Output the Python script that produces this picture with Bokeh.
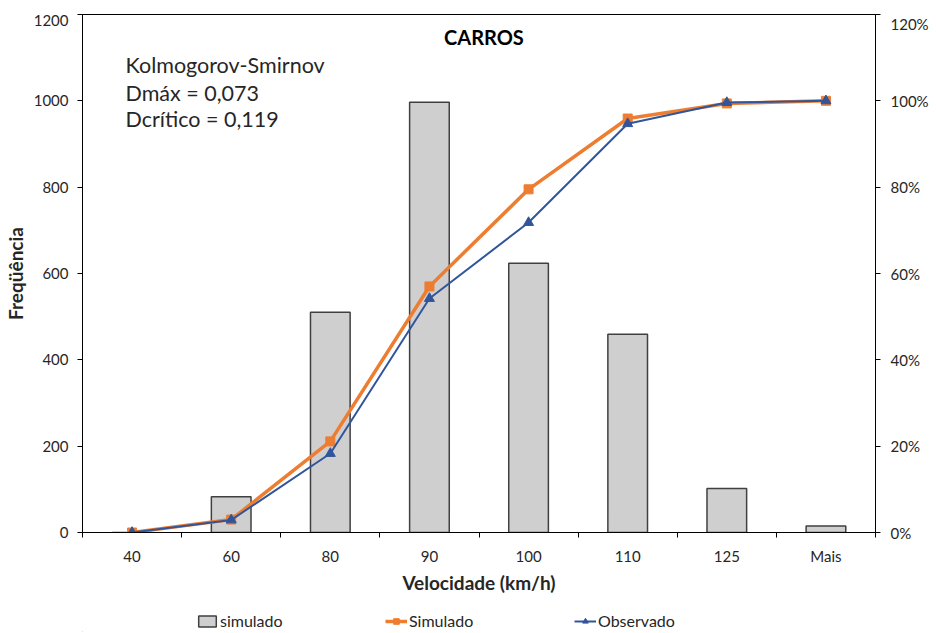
from bokeh.plotting import figure
from bokeh.layouts import column
from bokeh.models import (Range1d, LinearAxis, FixedTicker, NumeralTickFormatter,
                          Legend, LegendItem, Label, ColumnDataSource, Spacer)
from bokeh.embed import file_html
from bokeh.resources import INLINE

categories = ["40", "60", "80", "90", "100", "110", "125", "Mais"]
freq_simulado = [0, 83, 510, 997, 624, 459, 102, 15]
cum_simulado = [0.0, 0.030, 0.211, 0.570, 0.795, 0.959, 0.994, 1.0]
cum_observado = [0.0, 0.029, 0.183, 0.542, 0.718, 0.947, 0.996, 1.0]
freq_ticks = [0, 200, 400, 600, 800, 1000, 1200]
pct_ticks = [0.0, 0.2, 0.4, 0.6, 0.8, 1.0, 1.2]

FONT = "Lato"
TXT = "#262626"
GRAY, ORANGE, BLUE = "#d0cfd0", "#ed7d31", "#30559a"

xpos = [i + 0.5 for i in range(len(categories))]
src = ColumnDataSource(dict(x=xpos, freq=freq_simulado, sim=cum_simulado, obs=cum_observado))

p = figure(frame_width=793, frame_height=518, output_backend="svg", toolbar_location=None,
           x_range=Range1d(0, len(categories)), y_range=Range1d(0, 1200),
           min_border_left=0, min_border_right=0, min_border_top=0, min_border_bottom=0)
p.extra_y_ranges = {"pct": Range1d(0, 1.2)}
p.xgrid.visible = False
p.ygrid.visible = False
p.outline_line_color = "black"
p.outline_line_width = 1

p.vbar(x="x", top="freq", width=0.4, source=src, fill_color=GRAY, line_color="#404040", line_width=1.5)
p.line(x="x", y="sim", source=src, y_range_name="pct", line_color=ORANGE, line_width=3.5)
p.scatter(x="x", y="sim", source=src, y_range_name="pct", marker="square", size=9,
          fill_color=ORANGE, line_color=ORANGE)
p.line(x="x", y="obs", source=src, y_range_name="pct", line_color=BLUE, line_width=2)
p.scatter(x="x", y="obs", source=src, y_range_name="pct", marker="triangle", size=10,
          fill_color=BLUE, line_color=BLUE)

# x axis
xa = p.xaxis[0]
xa.ticker = FixedTicker(ticks=xpos, minor_ticks=list(range(len(categories) + 1)))
xa.major_label_overrides = {x: c for x, c in zip(xpos, categories)}
xa.major_tick_out = 0
xa.major_tick_in = 0
xa.minor_tick_out = 5
xa.minor_tick_in = 0
xa.minor_tick_line_color = "black"
xa.axis_line_color = "black"
xa.major_label_standoff = 9
xa.major_label_text_font = FONT
xa.major_label_text_font_size = "15px"
xa.major_label_text_color = TXT
xa.axis_label = "Velocidade (km/h)"
xa.axis_label_text_font = FONT
xa.axis_label_text_font_style = "bold"
xa.axis_label_text_font_size = "19px"
xa.axis_label_text_color = TXT
xa.axis_label_standoff = 3

# left y axis
ya = p.yaxis[0]
ya.ticker = FixedTicker(ticks=freq_ticks)
ya.minor_tick_line_color = None
ya.major_tick_out = 5
ya.major_tick_in = 0
ya.major_tick_line_color = "black"
ya.axis_line_color = "black"
ya.major_label_standoff = 9
ya.major_label_text_font = FONT
ya.major_label_text_font_size = "15px"
ya.major_label_text_color = TXT
ya.axis_label = "Freqüência"
ya.axis_label_text_font = FONT
ya.axis_label_text_font_style = "bold"
ya.axis_label_text_font_size = "19px"
ya.axis_label_text_color = TXT
ya.axis_label_standoff = 4

# right y axis
ra = LinearAxis(y_range_name="pct", ticker=FixedTicker(ticks=pct_ticks),
                formatter=NumeralTickFormatter(format="0%"))
ra.minor_tick_line_color = None
ra.major_tick_out = 5
ra.major_tick_in = 0
ra.major_tick_line_color = "black"
ra.axis_line_color = "black"
ra.major_label_standoff = 10
ra.axis_label_standoff = 0
ra.major_label_text_font = FONT
ra.major_label_text_font_size = "15px"
ra.major_label_text_color = TXT
p.add_layout(ra, "right")

# texts inside
p.add_layout(Label(x=4.05, y=1149, text="CARROS", text_align="center",
                   text_baseline="middle", text_font=FONT, text_font_style="bold",
                   text_font_size="20px", text_color="black"))
for txt, yy in [("Kolmogorov-Smirnov", 1084), ("Dmáx = 0,073", 1019), ("Dcrítico = 0,119", 957)]:
    p.add_layout(Label(x=0.434, y=yy, text=txt, text_align="left", text_baseline="middle",
                       text_font=FONT, text_font_size="21.5px", text_color=TXT))

# legend strip below the chart (its renderers lie outside the visible range)
q = figure(width=920, height=36, output_backend="svg", toolbar_location=None,
           x_axis_location=None, y_axis_location=None, x_range=Range1d(0, 1), y_range=Range1d(0, 1),
           min_border_left=0, min_border_right=0, min_border_top=0, min_border_bottom=0)
q.outline_line_color = None
q.xgrid.visible = False
q.ygrid.visible = False
hidden = ColumnDataSource(dict(x=[-10, -11], y=[-10, -11]))
r_bar = q.vbar(x="x", top="y", width=0.4, source=hidden, fill_color=GRAY, line_color="#404040", line_width=1.5)
r_ls = q.line(x="x", y="y", source=hidden, line_color=ORANGE, line_width=3.5)
r_ms = q.scatter(x="x", y="y", source=hidden, marker="square", size=9, fill_color=ORANGE, line_color=ORANGE)
r_lo = q.line(x="x", y="y", source=hidden, line_color=BLUE, line_width=2)
r_mo = q.scatter(x="x", y="y", source=hidden, marker="triangle", size=10, fill_color=BLUE, line_color=BLUE)

legend = Legend(items=[
    LegendItem(label="simulado", renderers=[r_bar]),
    LegendItem(label="Simulado", renderers=[r_ls, r_ms]),
    LegendItem(label="Observado", renderers=[r_lo, r_mo]),
], orientation="horizontal", location=(114, 2), border_line_color=None,
    background_fill_alpha=0, label_text_font=FONT, label_text_font_size="16px",
    label_text_color=TXT, glyph_width=22, glyph_height=14, label_standoff=2,
    label_width=150, spacing=15, padding=0, margin=0)
q.add_layout(legend, "center")

layout = column(Spacer(height=14, width=10), p, q, spacing=0)
open("out.html", "w").write(file_html(layout, INLINE))
